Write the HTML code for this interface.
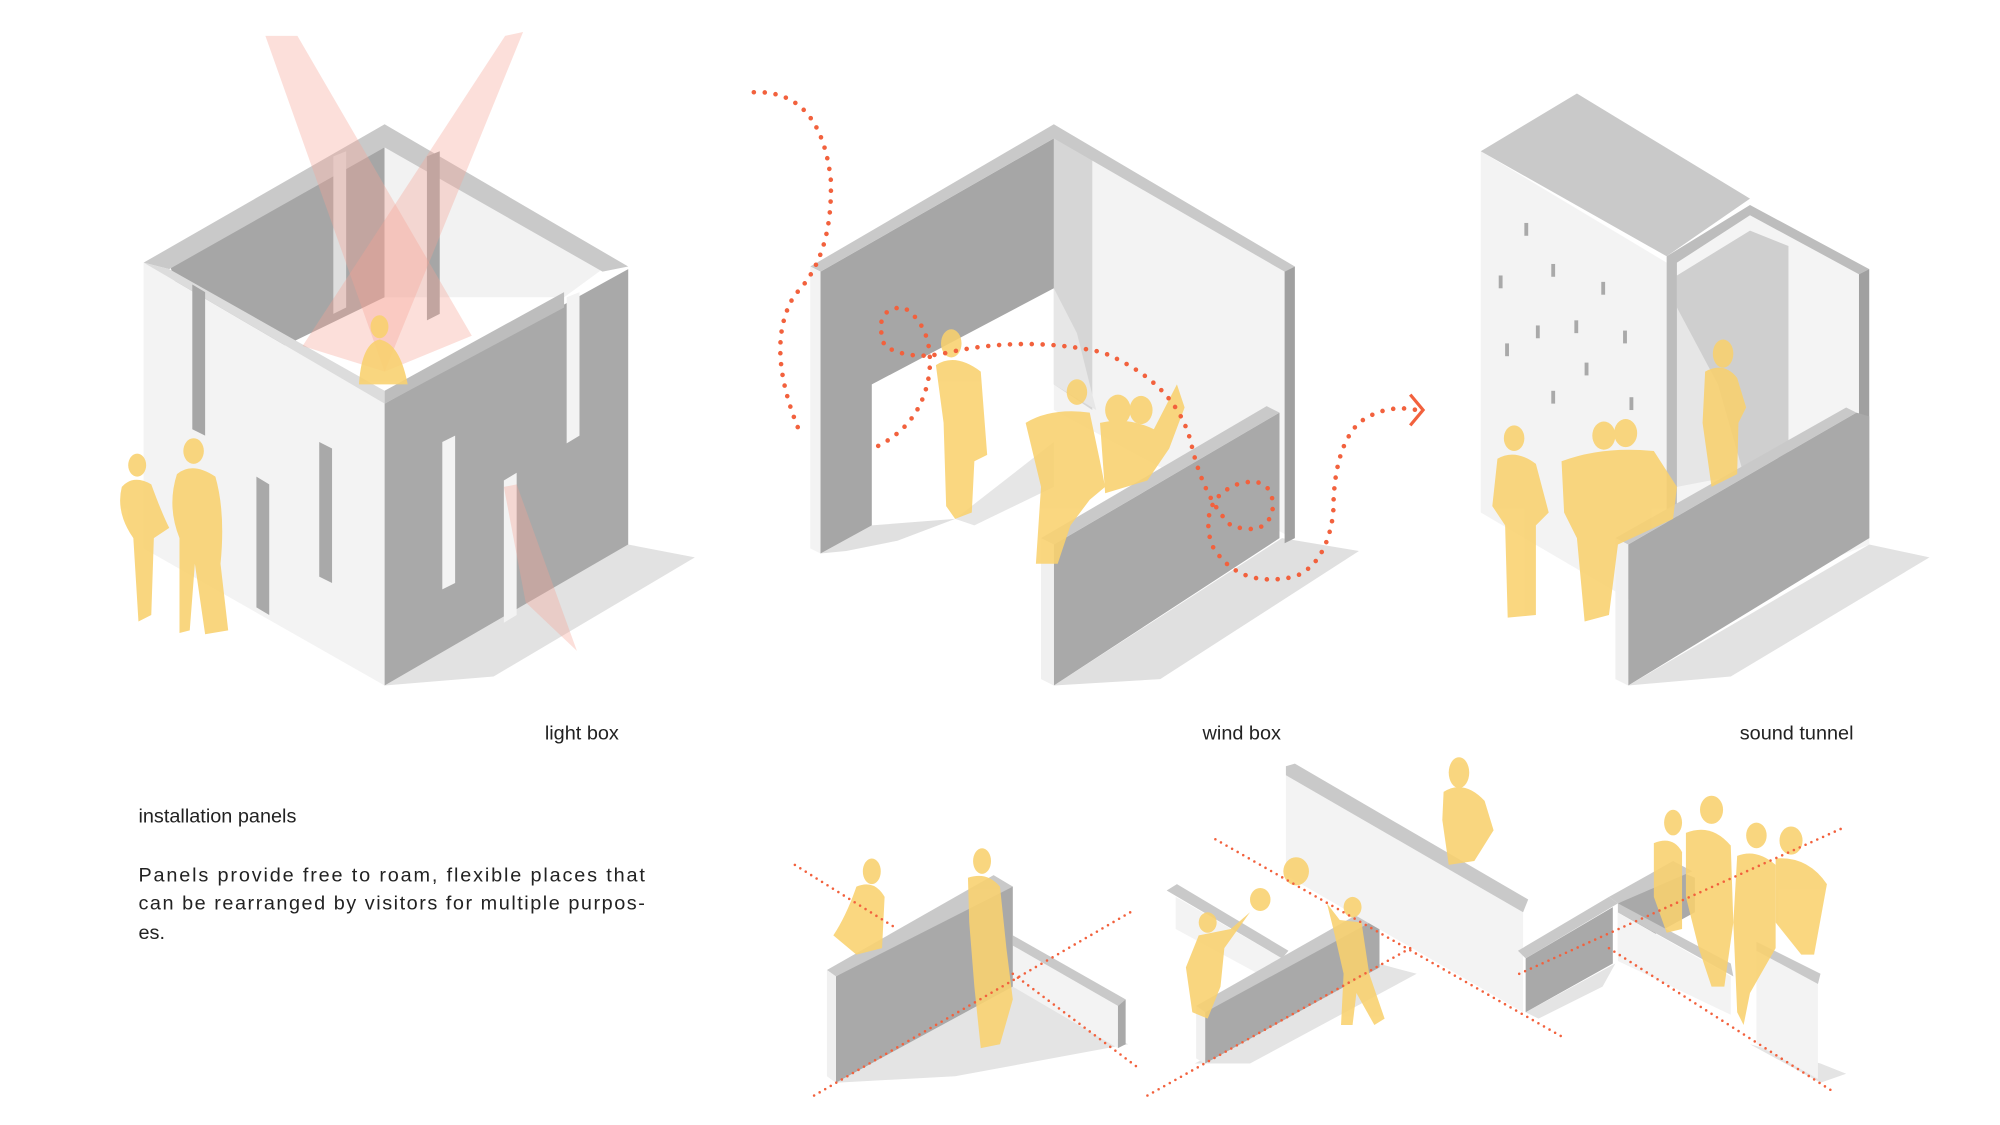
<!DOCTYPE html>
<html><head><meta charset="utf-8"><style>
html,body{margin:0;padding:0;background:#fff;width:2000px;height:1125px;overflow:hidden}
svg{display:block}
text{font-family:"Liberation Sans",sans-serif;font-size:15.5px;fill:#222}
.y{fill:#f9d16e;opacity:.88}
.d{fill:none;stroke:#f2613d;stroke-width:3.6;stroke-linecap:round;stroke-dasharray:0 8.5}
.dl{fill:none;stroke:#f2613d;stroke-width:2;stroke-linecap:round;stroke-dasharray:0 5}
</style></head><body>
<svg width="2000" height="1125" viewBox="0 0 1560 878" preserveAspectRatio="none">
<!-- ===== LIGHT BOX ===== -->
<polygon points="490,425 542,435 385,528 300,535" fill="#e2e2e2"/>
<polygon points="132,205 300,112 300,232 160,300" fill="#a6a6a6"/>
<polygon points="300,112 470,210 440,232 300,232" fill="#f2f2f2"/>
<polygon points="112,205 300,315 300,535 112,428" fill="#f3f3f3"/>
<polygon points="300,315 490,210 490,425 300,535" fill="#a9a9a9"/>
<polygon points="112,205 300,97 490,208 470,212 300,115 132,210" fill="#c9c9c9"/>
<polygon points="112,205 132,210 300,305 300,315" fill="#dcdcdc"/>
<polygon points="300,305 440,228 440,240 300,315" fill="#bdbdbd"/>
<polygon points="150,222 160,228 160,340 150,335" fill="#a6a6a6"/>
<polygon points="260,122 270,118 270,240 260,245" fill="#dedede"/>
<polygon points="333,122 343,118 343,245 333,250" fill="#a6a6a6"/>
<polygon points="442,232 452,228 452,340 442,346" fill="#f3f3f3"/>
<polygon points="200,372 210,378 210,480 200,474" fill="#a9a9a9"/>
<polygon points="249,345 259,350 259,455 249,450" fill="#a9a9a9"/>
<polygon points="345,345 355,340 355,455 345,460" fill="#f3f3f3"/>
<polygon points="393,375 403,369 403,480 393,486" fill="#f3f3f3"/>
<polygon points="207,28 232,28 368,262 300,290" fill="#f5a494" opacity=".35"/>
<polygon points="408,25 394,28 236,270 300,290" fill="#f5a494" opacity=".35"/>
<polygon points="393,380 403,378 450,508 410,470" fill="#f5a494" opacity=".35"/>
<g class="y">
<ellipse cx="296" cy="255" rx="7" ry="9"/><path d="M280,300 Q282,268 296,265 Q312,268 318,300 Z"/>
<ellipse cx="107" cy="363" rx="7" ry="9"/><path d="M95,380 Q104,370 118,378 Q126,400 132,412 L120,420 L118,480 L108,485 L104,420 Q90,400 95,380Z"/>
<ellipse cx="151" cy="352" rx="8" ry="10"/><path d="M138,370 Q150,360 168,372 Q176,400 172,440 L178,492 L160,495 L152,440 L148,492 L140,494 L140,420 Q130,395 138,370Z"/>
</g>
<!-- ===== WIND BOX ===== -->
<polygon points="640,432 680,410 745,405 700,422 660,430" fill="#e0e0e0"/>
<polygon points="745,405 822,345 822,380 760,410" fill="#e6e6e6"/>
<polygon points="1000,420 1060,430 905,530 822,535" fill="#e0e0e0"/>
<polygon points="822,105 1008,210 1008,420 822,320" fill="#f3f3f3"/>
<polygon points="822,105 852,122 852,320 822,300" fill="#d6d6d6"/>
<polygon points="822,225 840,260 855,320 822,300" fill="#e7e7e7"/>
<polygon points="640,212 822,108 822,225 680,300 680,410 640,432" fill="#a6a6a6"/>
<polygon points="632,208 822,97 1010,208 1002,212 822,108 640,212" fill="#c9c9c9"/>
<polygon points="632,208 640,212 640,432 632,428" fill="#f3f3f3"/>
<polygon points="1002,212 1010,208 1010,420 1002,424" fill="#a0a0a0"/>
<polygon points="822,425 998,322 998,420 822,535" fill="#a9a9a9"/>
<polygon points="812,420 988,317 998,322 822,425" fill="#c9c9c9"/>
<polygon points="812,420 822,425 822,535 812,530" fill="#f0f0f0"/>
<g class="y">
<ellipse cx="742" cy="268" rx="8" ry="11"/><path d="M730,285 Q745,275 765,290 L770,355 L760,360 L758,400 L745,405 L738,395 L736,330 Z"/>
<ellipse cx="840" cy="306" rx="8" ry="10"/>
<path d="M800,330 Q820,318 850,322 L858,360 L862,380 L850,390 L835,410 L825,440 L808,440 L812,380 Z"/>
<path d="M858,330 Q880,325 900,335 L918,300 L924,318 L912,350 L895,375 L862,385 Z"/>
<ellipse cx="872" cy="320" rx="10" ry="12"/><ellipse cx="890" cy="320" rx="9" ry="11"/>
</g>
<path class="d" d="M588,72 Q640,70 648,140 Q650,200 620,230 Q595,270 625,340"/>
<path class="d" d="M685,348 Q720,330 725,290 Q728,255 705,240 Q680,240 690,270 Q710,282 740,275 Q800,262 860,275 Q920,300 930,350 Q940,390 960,410 Q990,420 993,395 Q992,370 965,378 Q935,390 945,425 Q965,460 1010,450 Q1035,440 1040,400 Q1040,350 1060,330 Q1080,315 1105,320"/>
<path d="M1100,308 L1110,320 L1100,332" fill="none" stroke="#f2613d" stroke-width="2.5"/>
<!-- ===== SOUND TUNNEL ===== -->
<polygon points="1270,535 1458,425 1505,435 1350,528" fill="#e2e2e2"/>
<polygon points="1300,205 1365,165 1458,210 1458,425 1300,485" fill="#f4f4f4"/>
<polygon points="1308,215 1365,180 1395,192 1395,355 1308,380" fill="#cfcfcf"/>
<polygon points="1308,240 1340,300 1360,370 1308,380" fill="#e6e6e6"/>
<polygon points="1155,118 1300,205 1300,485 1155,400" fill="#f3f3f3"/>
<polygon points="1155,118 1230,73 1365,155 1300,200" fill="#c9c9c9"/>
<polygon points="1300,200 1365,160 1458,210 1450,214 1365,168 1308,205 1308,485 1300,485" fill="#bdbdbd"/>
<polygon points="1450,214 1458,210 1458,420 1450,424" fill="#a0a0a0"/>
<g fill="#a9a9a9">
<rect x="1189" y="174" width="3" height="10"/><rect x="1210" y="206" width="3" height="10"/><rect x="1249" y="220" width="3" height="10"/>
<rect x="1169" y="215" width="3" height="10"/><rect x="1228" y="250" width="3" height="10"/><rect x="1198" y="254" width="3" height="10"/>
<rect x="1266" y="258" width="3" height="10"/><rect x="1174" y="268" width="3" height="10"/><rect x="1236" y="283" width="3" height="10"/>
<rect x="1210" y="305" width="3" height="10"/><rect x="1271" y="310" width="3" height="10"/>
</g>
<polygon points="1270,425 1448,322 1458,325 1458,420 1270,535" fill="#a9a9a9"/>
<polygon points="1260,420 1440,318 1448,322 1270,425" fill="#c9c9c9"/>
<polygon points="1260,420 1270,425 1270,535 1260,530" fill="#f0f0f0"/>
<g class="y">
<ellipse cx="1344" cy="276" rx="8" ry="11"/><path d="M1330,290 Q1345,282 1355,295 L1362,318 L1356,330 L1355,370 L1335,380 L1328,330 Z"/>
<ellipse cx="1181" cy="342" rx="8" ry="10"/><path d="M1168,358 Q1182,350 1198,362 L1208,400 L1198,410 L1198,480 L1176,482 L1174,410 L1164,395 Z"/>
<ellipse cx="1251" cy="340" rx="9" ry="11"/><ellipse cx="1268" cy="338" rx="9" ry="11"/>
<path d="M1218,360 Q1250,348 1290,352 L1308,380 L1305,405 L1262,425 L1255,480 L1236,485 L1230,420 L1220,400 Z"/>
</g>
<text x="425" y="577">light box</text>
<text x="938" y="577">wind box</text>
<text x="1357" y="577">sound tunnel</text>
<text x="108" y="642">installation panels</text>
<text x="108" y="688" textLength="395" lengthAdjust="spacing">Panels provide free to roam, flexible places that</text>
<text x="108" y="710" textLength="395" lengthAdjust="spacing">can be rearranged by visitors for multiple purpos-</text>
<text x="108" y="733">es.</text>
<!-- ===== BOTTOM PANELS ===== -->
<polygon points="652,845 790,770 880,815 745,840" fill="#e4e4e4"/>
<polygon points="932,830 1075,752 1105,760 975,830" fill="#e4e4e4"/>
<polygon points="1190,790 1260,752 1250,770 1200,795" fill="#e4e4e4"/>
<polygon points="1365,815 1420,830 1440,838 1420,845" fill="#e4e4e4"/>
<polygon points="790,738 872,785 872,818 790,770" fill="#f3f3f3"/>
<polygon points="790,730 878,780 872,785 790,738" fill="#c9c9c9"/>
<polygon points="872,785 878,780 878,815 872,818" fill="#a9a9a9"/>
<polygon points="652,762 782,688 790,692 790,770 652,845" fill="#a9a9a9"/>
<polygon points="645,757 775,683 790,692 652,762" fill="#c9c9c9"/>
<polygon points="645,757 652,762 652,845 645,840" fill="#f0f0f0"/>
<polygon points="917,700 1000,748 1000,770 917,725" fill="#f3f3f3"/>
<polygon points="910,695 918,690 1005,742 1000,748" fill="#c9c9c9"/>
<polygon points="940,790 1070,715 1076,718 1076,755 940,830" fill="#a9a9a9"/>
<polygon points="933,785 1065,710 1076,716 940,790" fill="#c9c9c9"/>
<polygon points="933,785 940,790 940,830 933,826" fill="#f0f0f0"/>
<polygon points="1003,605 1188,712 1188,790 1003,683" fill="#f3f3f3"/>
<polygon points="1003,598 1010,596 1192,702 1188,712 1003,605" fill="#c9c9c9"/>
<polygon points="1190,748 1258,708 1258,752 1190,790" fill="#a9a9a9"/>
<polygon points="1184,742 1255,700 1262,705 1190,748" fill="#c9c9c9"/>
<polygon points="1262,705 1310,680 1322,685 1322,712 1262,745" fill="#a9a9a9"/>
<polygon points="1255,700 1305,672 1320,680 1262,705" fill="#c9c9c9"/>
<polygon points="1262,712 1350,762 1350,792 1262,750" fill="#f3f3f3"/>
<polygon points="1262,705 1350,752 1352,762 1262,712" fill="#c9c9c9"/>
<polygon points="1370,742 1418,768 1418,842 1370,815" fill="#f3f3f3"/>
<polygon points="1370,735 1420,760 1418,768 1370,742" fill="#c9c9c9"/>
<g class="y">
<ellipse cx="680" cy="680" rx="7" ry="10"/><path d="M668,692 Q682,686 690,700 L688,740 L668,745 L650,730 Q660,715 668,692Z"/>
<ellipse cx="766" cy="672" rx="7" ry="10"/><path d="M755,685 Q770,680 780,692 L785,740 L790,780 L780,815 L765,818 L760,770 L756,720 Z"/>
<ellipse cx="1011" cy="680" rx="10" ry="11"/><ellipse cx="983" cy="702" rx="8" ry="9"/>
<ellipse cx="942" cy="720" rx="7" ry="8"/><path d="M935,730 L960,725 L975,712 L955,740 L952,770 L942,795 L930,790 L925,755 Z"/>
<ellipse cx="1055" cy="708" rx="7" ry="8"/><path d="M1035,705 L1045,718 L1062,720 L1068,760 L1080,795 L1072,800 L1058,775 L1055,800 L1046,800 L1048,760 L1040,725 Z"/>
<ellipse cx="1138" cy="603" rx="8" ry="12"/><path d="M1126,618 Q1142,608 1158,625 L1165,648 L1150,672 L1130,675 L1125,640 Z"/>
<ellipse cx="1305" cy="642" rx="7" ry="10"/><path d="M1290,658 Q1305,652 1312,665 L1312,725 L1300,728 L1290,700 Z"/>
<ellipse cx="1335" cy="632" rx="9" ry="11"/><path d="M1315,650 Q1335,642 1350,660 L1352,720 L1345,770 L1335,770 L1325,740 L1315,700 Z"/>
<ellipse cx="1370" cy="652" rx="8" ry="10"/><path d="M1355,668 Q1370,662 1385,675 L1385,740 L1365,775 L1360,800 L1355,790 L1352,720 Z"/>
<ellipse cx="1397" cy="656" rx="9" ry="11"/><path d="M1385,670 Q1410,668 1425,690 L1415,745 L1405,745 L1385,720 Z"/>
</g>
<path class="dl" d="M620,675 L700,725"/><path class="dl" d="M635,855 L885,710"/>
<path class="dl" d="M790,760 L890,835"/>
<path class="dl" d="M948,655 L1220,810"/><path class="dl" d="M895,855 L1100,740"/>
<path class="dl" d="M1185,760 L1440,645"/><path class="dl" d="M1255,740 L1430,852"/>
</svg>
</body></html>
